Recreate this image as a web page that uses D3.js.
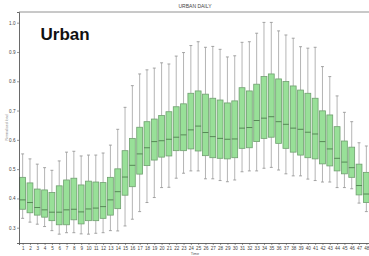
<!DOCTYPE html>
<html>
<head>
<meta charset="utf-8">
<script src="https://cdn.jsdelivr.net/npm/d3@7"></script>
<style>
  html, body { margin: 0; padding: 0; background: #fff; }
  svg { display: block; font-family: "Liberation Sans", Arial, sans-serif; }
</style>
</head>
<body>
<div id="chart"></div>
<script>
// half-hour slots
const slots = [1, 2, 3, 4, 5, 6, 7, 8, 9, 10, 11, 12, 13, 14, 15, 16, 17, 18, 19, 20, 21, 22, 23, 24,
               25, 26, 27, 28, 29, 30, 31, 32, 33, 34, 35, 36, 37, 38, 39, 40, 41, 42, 43, 44, 45, 46, 47, 48];

const whiskerHigh = [0.552, 0.535, 0.517, 0.505, 0.496, 0.528, 0.558, 0.561, 0.545, 0.548, 0.548, 0.555,
                     0.582, 0.636, 0.711, 0.785, 0.825, 0.839, 0.845, 0.863, 0.859, 0.886, 0.898, 0.922,
                     0.935, 0.916, 0.919, 0.909, 0.883, 0.887, 0.933, 0.935, 0.964, 1.001, 1.001, 0.972,
                     0.958, 0.947, 0.918, 0.913, 0.916, 0.850, 0.816, 0.750, 0.694, 0.662, 0.590, 0.579];
const q3 = [0.472, 0.453, 0.432, 0.429, 0.420, 0.443, 0.463, 0.469, 0.446, 0.459, 0.456, 0.454,
            0.472, 0.501, 0.563, 0.605, 0.643, 0.662, 0.671, 0.683, 0.696, 0.713, 0.723, 0.759,
            0.767, 0.756, 0.742, 0.736, 0.726, 0.733, 0.778, 0.767, 0.790, 0.816, 0.825, 0.808,
            0.799, 0.784, 0.770, 0.759, 0.742, 0.699, 0.685, 0.645, 0.596, 0.575, 0.517, 0.489];
const median = [0.395, 0.386, 0.369, 0.361, 0.353, 0.353, 0.361, 0.363, 0.354, 0.364, 0.367, 0.372,
                0.395, 0.423, 0.473, 0.513, 0.552, 0.573, 0.594, 0.597, 0.602, 0.609, 0.617, 0.634,
                0.647, 0.625, 0.611, 0.605, 0.602, 0.603, 0.640, 0.642, 0.666, 0.674, 0.679, 0.662,
                0.653, 0.640, 0.636, 0.626, 0.620, 0.594, 0.569, 0.537, 0.524, 0.505, 0.444, 0.415];
const q1 = [0.363, 0.351, 0.343, 0.336, 0.324, 0.310, 0.310, 0.327, 0.313, 0.324, 0.324, 0.332,
            0.343, 0.365, 0.411, 0.440, 0.483, 0.512, 0.531, 0.541, 0.545, 0.563, 0.563, 0.569,
            0.562, 0.546, 0.539, 0.537, 0.535, 0.539, 0.571, 0.573, 0.594, 0.605, 0.609, 0.588,
            0.571, 0.558, 0.548, 0.539, 0.535, 0.518, 0.511, 0.494, 0.484, 0.472, 0.412, 0.386];
const whiskerLow = [0.332, 0.319, 0.312, 0.304, 0.290, 0.278, 0.283, 0.283, 0.279, 0.278, 0.281, 0.283,
                    0.290, 0.289, 0.306, 0.329, 0.355, 0.386, 0.403, 0.437, 0.438, 0.469, 0.486, 0.494,
                    0.494, 0.467, 0.467, 0.461, 0.457, 0.463, 0.491, 0.494, 0.494, 0.503, 0.506, 0.497,
                    0.484, 0.477, 0.477, 0.466, 0.461, 0.456, 0.456, 0.437, 0.437, 0.433, 0.384, 0.355];

const yTicks = [0.3, 0.4, 0.5, 0.6, 0.7, 0.8, 0.9, 1.0];

const width = 369;
const height = 256;
const margin = {left: 19, top: 12, bottom: 13};
const plotRight = 370;

const data = slots.map((s, i) => ({
    slot: s,
    lo: whiskerLow[i], q1: q1[i], med: median[i], q3: q3[i], hi: whiskerHigh[i]
}));

const x = d3.scaleLinear()
    .domain([0.5, 48.5])
    .range([margin.left, plotRight]);

const y = d3.scaleLinear()
    .domain([0.2478, 1.0365])
    .range([height - margin.bottom, margin.top]);

const svg = d3.select('#chart')
    .append('svg')
    .attr('width', width)
    .attr('height', height);

const step = x(2) - x(1);
const boxW = step * 0.8;
const capW = boxW * 0.5;

/* whiskers + boxes */
const g = svg.append('g');

const boxes = g.selectAll('.box')
    .data(data)
    .enter()
    .append('g')
    .attr('class', 'box');

boxes.append('line')
    .attr('x1', d => x(d.slot)).attr('x2', d => x(d.slot))
    .attr('y1', d => y(d.hi)).attr('y2', d => y(d.q3))
    .attr('stroke', '#ababab').attr('stroke-width', 0.9);

boxes.append('line')
    .attr('x1', d => x(d.slot)).attr('x2', d => x(d.slot))
    .attr('y1', d => y(d.q1)).attr('y2', d => y(d.lo))
    .attr('stroke', '#ababab').attr('stroke-width', 0.9);

boxes.append('line')
    .attr('x1', d => x(d.slot) - capW / 2).attr('x2', d => x(d.slot) + capW / 2)
    .attr('y1', d => y(d.hi)).attr('y2', d => y(d.hi))
    .attr('stroke', '#9a9a9a').attr('stroke-width', 0.9);

boxes.append('line')
    .attr('x1', d => x(d.slot) - capW / 2).attr('x2', d => x(d.slot) + capW / 2)
    .attr('y1', d => y(d.lo)).attr('y2', d => y(d.lo))
    .attr('stroke', '#9a9a9a').attr('stroke-width', 0.9);

boxes.append('rect')
    .attr('x', d => x(d.slot) - boxW / 2)
    .attr('width', boxW)
    .attr('y', d => y(d.q3))
    .attr('height', d => y(d.q1) - y(d.q3))
    .attr('fill', '#98e098')
    .attr('stroke', '#6f9f6f')
    .attr('stroke-width', 0.8);

boxes.append('line')
    .attr('x1', d => x(d.slot) - boxW / 2).attr('x2', d => x(d.slot) + boxW / 2)
    .attr('y1', d => y(d.med)).attr('y2', d => y(d.med))
    .attr('stroke', '#4f7f4f').attr('stroke-width', 0.9);

/* axes */
const yAxis = svg.append('g')
    .attr('transform', `translate(${margin.left},0)`)
    .call(d3.axisLeft(y).tickValues(yTicks).tickFormat(d3.format('.1f')).tickSize(2).tickPadding(1.5));

const xAxis = svg.append('g')
    .attr('transform', `translate(0,${height - margin.bottom})`)
    .call(d3.axisBottom(x).tickValues(slots).tickSize(2).tickPadding(1.5));

[yAxis, xAxis].forEach(a => {
    a.select('.domain').attr('stroke', '#444').attr('stroke-width', 0.8);
    a.selectAll('.tick line').attr('stroke', '#555').attr('stroke-width', 0.6);
    a.selectAll('.tick text').attr('fill', '#444').style('font-size', '4.6px');
});

// top spine
svg.append('line')
    .attr('x1', margin.left).attr('x2', plotRight)
    .attr('y1', margin.top).attr('y2', margin.top)
    .attr('stroke', '#777').attr('stroke-width', 0.8);

// title
svg.append('text')
    .attr('x', 195).attr('y', 8)
    .attr('text-anchor', 'middle')
    .attr('fill', '#444')
    .style('font-size', '5px')
    .text('URBAN DAILY');

// y label
svg.append('text')
    .attr('transform', `translate(7.5,${(margin.top + height - margin.bottom) / 2}) rotate(-90)`)
    .attr('text-anchor', 'middle')
    .attr('fill', '#888')
    .style('font-size', '3.6px')
    .text('Normalised load');

// x label
svg.append('text')
    .attr('x', 195).attr('y', 255.3)
    .attr('text-anchor', 'middle')
    .attr('fill', '#555')
    .style('font-size', '3.8px')
    .text('Time');

// big label
svg.append('text')
    .attr('x', 40.5).attr('y', 39.5)
    .attr('fill', '#111')
    .style('font-size', '17px')
    .style('font-weight', 'bold')
    .text('Urban');
</script>
</body>
</html>
